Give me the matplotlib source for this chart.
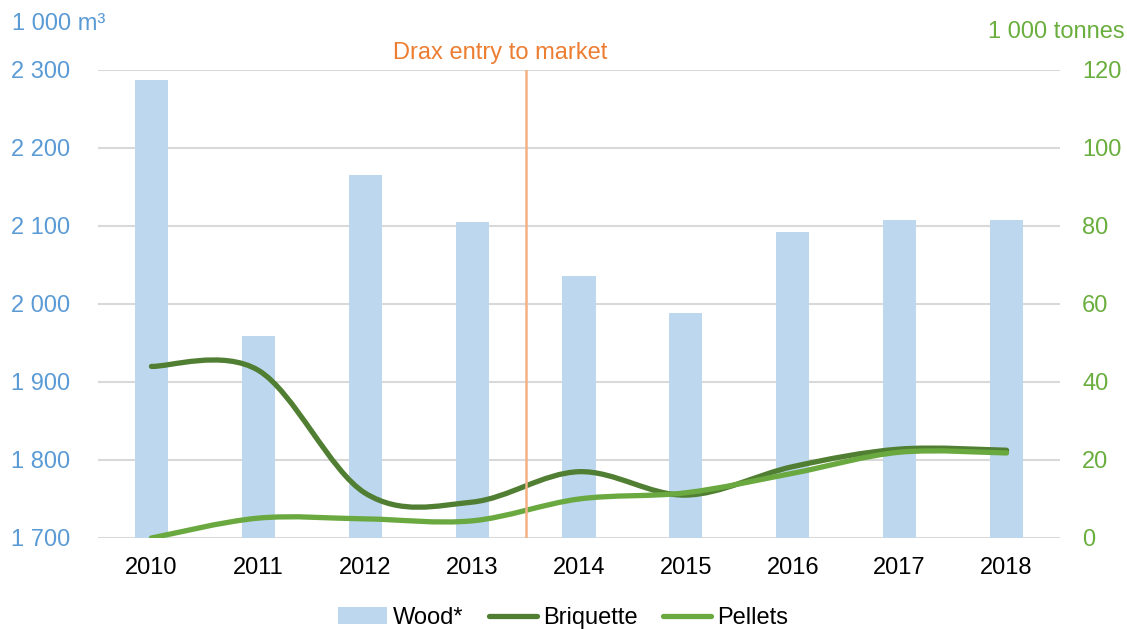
import numpy as np
import matplotlib
matplotlib.use('Agg')
import matplotlib.pyplot as plt
from matplotlib.path import Path
from matplotlib.patches import PathPatch, Patch
from matplotlib.lines import Line2D

plt.rcParams['font.family'] = ['Liberation Sans', 'DejaVu Sans']

# data
years = ['2010', '2011', '2012', '2013', '2014', '2015', '2016', '2017', '2018']
wood = [2287, 1959, 2165, 2105, 2036, 1988, 2092, 2108, 2108]          # 1 000 m3
briquette = [44, 43, 11.5, 9.2, 17, 11, 18.3, 22.8, 22.5]              # 1 000 tonnes
pellets = [0, 5.1, 4.9, 4.4, 10, 11.6, 16.6, 22, 21.8]                 # 1 000 tonnes
left_ticks = [1700, 1800, 1900, 2000, 2100, 2200, 2300]
right_ticks = [0, 20, 40, 60, 80, 100, 120]
drax_pos = 3.5

c_bar = '#BDD7EE'
c_bri = '#507E32'
c_pel = '#6AA840'
c_left = '#5B9BD5'
c_right = '#6AAE3E'
c_drax = '#ED7D31'
fs = 17


def smooth_path(xs, ys):
    # excel-like smoothed line: catmull-rom as cubic bezier
    pts = np.column_stack([xs, ys]).astype(float)
    n = len(pts)
    verts = [pts[0]]
    codes = [Path.MOVETO]
    for i in range(n - 1):
        p0 = pts[max(i - 1, 0)]
        p1 = pts[i]
        p2 = pts[i + 1]
        p3 = pts[min(i + 2, n - 1)]
        verts += [p1 + (p2 - p0) / 6, p2 - (p3 - p1) / 6, p2]
        codes += [Path.CURVE4] * 3
    return Path(verts, codes)


fig = plt.figure(figsize=(11.27, 6.29), dpi=100)
ax = fig.add_axes([98 / 1127, 1 - 538 / 629, (1060 - 98) / 1127, (538 - 70) / 629])
x = np.arange(len(years))

ax.bar(x, wood, width=0.31, color=c_bar, zorder=2)
ax.set_ylim(1700, 2300)
ax.set_xlim(-0.5, len(years) - 0.5)
ax.set_yticks(left_ticks)
ax.set_yticklabels(['{:,}'.format(v).replace(',', ' ') for v in left_ticks])
ax.set_xticks(x)
ax.set_xticklabels(years)
ax.grid(axis='y', color='#D9D9D9', linewidth=1.5, zorder=0)
ax.set_axisbelow(True)
for s in ax.spines.values():
    s.set_visible(False)
ax.tick_params(axis='y', length=0, pad=20, labelsize=fs, labelcolor=c_left)
ax.tick_params(axis='x', length=0, pad=14, labelsize=fs, labelcolor='black')

ax2 = ax.twinx()
ax2.set_ylim(0, 120)
ax2.set_yticks(right_ticks)
for s in ax2.spines.values():
    s.set_visible(False)
ax2.tick_params(axis='y', length=0, pad=16, labelsize=fs, labelcolor=c_right)

ax2.add_patch(PathPatch(smooth_path(x, briquette), facecolor='none', edgecolor=c_bri,
                        linewidth=3.8, capstyle='round', joinstyle='round', zorder=3))
ax2.add_patch(PathPatch(smooth_path(x, pellets), facecolor='none', edgecolor=c_pel,
                        linewidth=3.8, capstyle='round', joinstyle='round', zorder=4))

ax2.axvline(drax_pos, color='#F4B183', linewidth=1.8, zorder=5)
ax2.text(drax_pos - 0.24, 121.5, 'Drax entry to market', color=c_drax, fontsize=fs,
         ha='center', va='bottom')

fig.text(12 / 1127, 1 - 24 / 629, '1 000 m³', color=c_left, fontsize=fs, ha='left', va='center')
fig.text(1125 / 1127, 1 - 32 / 629, '1 000 tonnes', color=c_right, fontsize=fs, ha='right', va='center')

handles = [Patch(facecolor=c_bar, edgecolor='none'),
           Line2D([], [], color=c_bri, linewidth=3.8, solid_capstyle='round'),
           Line2D([], [], color=c_pel, linewidth=3.8, solid_capstyle='round')]
fig.legend(handles, ['Wood*', 'Briquette', 'Pellets'], loc='center', bbox_to_anchor=(0.5, 1 - 618 / 629),
           ncol=3, frameon=False, fontsize=fs, handlelength=2.05, handletextpad=0.27, columnspacing=1.05)

fig.savefig('out.png', dpi=100)
